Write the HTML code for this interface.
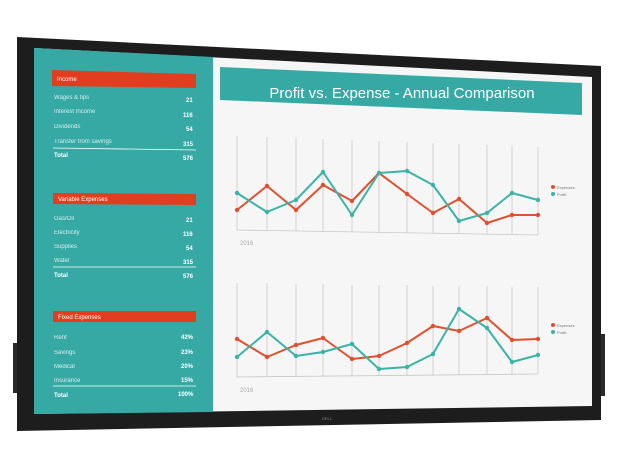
<!DOCTYPE html>
<html><head><meta charset="utf-8"><style>
html,body{margin:0;padding:0;background:#fff;width:617px;height:469px;overflow:hidden}
svg{display:block}
text{font-family:"Liberation Sans",sans-serif}
</style></head><body>
<svg width="617" height="469" viewBox="0 0 617 469">
<!-- side buttons -->
<rect x="13" y="343" width="6" height="50" fill="#2a2a2a"/>
<rect x="599" y="334" width="6" height="62" fill="#2a2a2a"/>
<!-- frame -->
<polygon points="17,37 601,66 601,420 17,431" fill="#1d1d1d"/>
<polygon points="34,48 592,77 592,406 34,414" fill="#f6f6f6"/>
<polygon points="34,48 213,57 213,412 34,414" fill="#37a9a5"/>
<text x="322" y="420" font-size="4" fill="#888">DELL</text>
<!-- left panel -->
<g fill="#fff" font-size="6">
<polygon points="52,70 196,74 196,88 52,86" fill="#e03e1f"/>
<text x="57" y="81">Income</text>
<text x="54" y="99" opacity=".8">Wages &amp; tips</text><text x="186" y="102" font-weight="bold">21</text>
<text x="54" y="113" opacity=".8">Interest Income</text><text x="183" y="117" font-weight="bold">116</text>
<text x="54" y="128" opacity=".8">Dividends</text><text x="186" y="131" font-weight="bold">54</text>
<text x="54" y="143" opacity=".8">Transfer from savings</text><text x="183" y="146" font-weight="bold">315</text>
<line x1="53" y1="148" x2="196" y2="150" stroke="#fff" stroke-width=".8"/>
<text x="54" y="157" font-weight="bold">Total</text><text x="183" y="160" font-weight="bold">576</text>
<polygon points="53,193 196,194 196,205 53,204" fill="#e03e1f"/>
<text x="58" y="201">Variable Expenses</text>
<text x="54" y="220" opacity=".8">Gas/Oil</text><text x="186" y="222" font-weight="bold">21</text>
<text x="54" y="234" opacity=".8">Electricity</text><text x="183" y="236" font-weight="bold">116</text>
<text x="54" y="248" opacity=".8">Supplies</text><text x="186" y="250" font-weight="bold">54</text>
<text x="54" y="262" opacity=".8">Water</text><text x="183" y="264" font-weight="bold">315</text>
<line x1="53" y1="267" x2="196" y2="267" stroke="#fff" stroke-width=".8"/>
<text x="54" y="277" font-weight="bold">Total</text><text x="183" y="278" font-weight="bold">576</text>
<rect x="53" y="311" width="143" height="11" fill="#e03e1f"/>
<text x="58" y="319">Fixed Expenses</text>
<text x="54" y="339" opacity=".8">Rent</text><text x="181" y="339" font-weight="bold">42%</text>
<text x="54" y="354" opacity=".8">Savings</text><text x="181" y="354" font-weight="bold">23%</text>
<text x="54" y="368" opacity=".8">Medical</text><text x="181" y="368" font-weight="bold">20%</text>
<text x="54" y="382" opacity=".8">Insurance</text><text x="181" y="382" font-weight="bold">15%</text>
<line x1="53" y1="386" x2="196" y2="386" stroke="#fff" stroke-width=".8"/>
<text x="54" y="397" font-weight="bold">Total</text><text x="178" y="396" font-weight="bold">100%</text>
</g>
<!-- title -->
<polygon points="220,67 582,83 582,115 220,100" fill="#37a9a5"/>
<text x="402" y="98" font-size="15" fill="#fff" text-anchor="middle">Profit vs. Expense - Annual Comparison</text>
<!-- grids -->
<g stroke="#c8c8c8" stroke-width="0.8">
<line x1="237" y1="136" x2="237" y2="230"/><line x1="267" y1="137" x2="267" y2="231"/><line x1="296" y1="138" x2="296" y2="231"/><line x1="323" y1="139" x2="323" y2="232"/><line x1="352" y1="140" x2="352" y2="232"/><line x1="379" y1="141" x2="379" y2="232"/><line x1="407" y1="142" x2="407" y2="233"/><line x1="433" y1="143" x2="433" y2="233"/><line x1="459" y1="144" x2="459" y2="234"/><line x1="487" y1="145" x2="487" y2="234"/><line x1="512" y1="146" x2="512" y2="235"/><line x1="538" y1="147" x2="538" y2="235"/>
<line x1="237" y1="230" x2="538" y2="235"/>
<line x1="237" y1="283" x2="237" y2="377"/><line x1="267" y1="283" x2="267" y2="377"/><line x1="296" y1="284" x2="296" y2="376"/><line x1="323" y1="284" x2="323" y2="376"/><line x1="352" y1="285" x2="352" y2="376"/><line x1="379" y1="285" x2="379" y2="376"/><line x1="407" y1="285" x2="407" y2="375"/><line x1="433" y1="286" x2="433" y2="375"/><line x1="459" y1="286" x2="459" y2="375"/><line x1="487" y1="286" x2="487" y2="375"/><line x1="512" y1="287" x2="512" y2="374"/><line x1="538" y1="287" x2="538" y2="374"/>
<line x1="237" y1="377" x2="538" y2="374"/>
</g>
<text x="240" y="245" font-size="6" fill="#aaa">2016</text>
<text x="240" y="392" font-size="6" fill="#aaa">2016</text>
<g fill="none" stroke-width="2" stroke-linejoin="round">
<polyline stroke="#e0502e" points="237,210 267,186 296,210 323,185 352,201 379,173 407,194 433,213 459,199 487,223 512,215 538,215"/>
<polyline stroke="#3ab3a8" points="237,193 267,212 296,200 323,172 352,215 379,173 407,171 433,185 459,221 487,213 512,193 538,200"/>
<polyline stroke="#e0502e" points="237,339 267,357 296,345 323,338 352,359 379,356 407,343 433,326 459,331 487,318 512,340 538,339"/>
<polyline stroke="#3ab3a8" points="237,357 267,332 296,356 323,352 352,344 379,369 407,367 433,354 459,309 487,328 512,362 538,355"/>
</g>
<g fill="#e0502e">
<circle cx="237" cy="210" r="2.2"/><circle cx="267" cy="186" r="2.2"/><circle cx="296" cy="210" r="2.2"/><circle cx="323" cy="185" r="2.2"/><circle cx="352" cy="201" r="2.2"/><circle cx="379" cy="173" r="2.2"/><circle cx="407" cy="194" r="2.2"/><circle cx="433" cy="213" r="2.2"/><circle cx="459" cy="199" r="2.2"/><circle cx="487" cy="223" r="2.2"/><circle cx="512" cy="215" r="2.2"/><circle cx="538" cy="215" r="2.2"/>
<circle cx="237" cy="339" r="2.2"/><circle cx="267" cy="357" r="2.2"/><circle cx="296" cy="345" r="2.2"/><circle cx="323" cy="338" r="2.2"/><circle cx="352" cy="359" r="2.2"/><circle cx="379" cy="356" r="2.2"/><circle cx="407" cy="343" r="2.2"/><circle cx="433" cy="326" r="2.2"/><circle cx="459" cy="331" r="2.2"/><circle cx="487" cy="318" r="2.2"/><circle cx="512" cy="340" r="2.2"/><circle cx="538" cy="339" r="2.2"/>
<circle cx="553" cy="187" r="2"/><circle cx="553" cy="325" r="2"/>
</g>
<g fill="#3ab3a8">
<circle cx="237" cy="193" r="2.2"/><circle cx="267" cy="212" r="2.2"/><circle cx="296" cy="200" r="2.2"/><circle cx="323" cy="172" r="2.2"/><circle cx="352" cy="215" r="2.2"/><circle cx="379" cy="173" r="2.2"/><circle cx="407" cy="171" r="2.2"/><circle cx="433" cy="185" r="2.2"/><circle cx="459" cy="221" r="2.2"/><circle cx="487" cy="213" r="2.2"/><circle cx="512" cy="193" r="2.2"/><circle cx="538" cy="200" r="2.2"/>
<circle cx="237" cy="357" r="2.2"/><circle cx="267" cy="332" r="2.2"/><circle cx="296" cy="356" r="2.2"/><circle cx="323" cy="352" r="2.2"/><circle cx="352" cy="344" r="2.2"/><circle cx="379" cy="369" r="2.2"/><circle cx="407" cy="367" r="2.2"/><circle cx="433" cy="354" r="2.2"/><circle cx="459" cy="309" r="2.2"/><circle cx="487" cy="328" r="2.2"/><circle cx="512" cy="362" r="2.2"/><circle cx="538" cy="355" r="2.2"/>
<circle cx="553" cy="194" r="2"/><circle cx="553" cy="332" r="2"/>
</g>
<g font-size="4" fill="#777">
<text x="557" y="189">Expenses</text><text x="557" y="196">Profit</text>
<text x="557" y="327">Expenses</text><text x="557" y="334">Profit</text>
</g>
</svg>
</body></html>
